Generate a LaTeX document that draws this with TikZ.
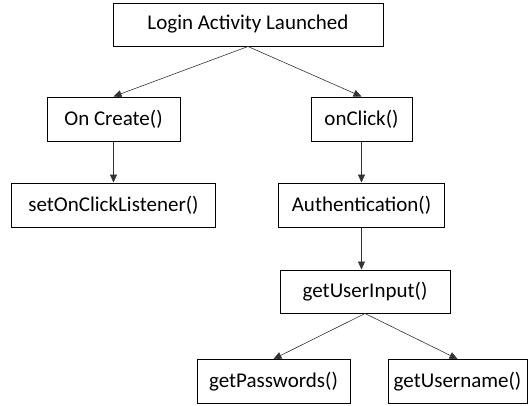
\documentclass[tikz,border=0pt]{standalone}
\usepackage{fontspec}
\setmainfont{Carlito}
\usepackage{tikz}
\usetikzlibrary{arrows.meta,positioning,calc}

\begin{document}
\begin{tikzpicture}[
    x=1pt, y=-1pt,
    node distance=41pt,
    step box/.style={rectangle, draw=black, line width=1pt, fill=white, minimum height=44pt, inner sep=0pt, font=\fontsize{21}{25}\selectfont},
    arrow/.style={-{Triangle[length=8pt,width=7pt]}, line width=0.6pt, draw=black!80},
]
\useasboundingbox (0,0) rectangle (528,405);

% Activity start
\node[step box, minimum width=270pt, minimum height=43pt] (login) at (248,24.5) {Login Activity Launched};

% Lifecycle callbacks
\node[step box, minimum width=133pt] (create) at (113.5,119) {On Create()};
\node[step box, minimum width=101pt] (click) at (361.5,119) {onClick()};
\node[step box, minimum width=204pt, below=of create] (listener) {setOnClickListener()};
\node[step box, minimum width=166pt, below=of click] (auth) {Authentication()};

% Input handling
\node[step box, minimum width=170pt, minimum height=43pt] (input) at (365,291.5) {getUserInput()};
\node[step box, minimum width=153pt] (pass) at (273.5,381.5) {getPasswords()};
\node[step box, minimum width=139pt] (user) at (457.5,381.5) {getUsername()};

% Arrows
\draw[arrow] (login.south) -- (create.north);
\draw[arrow] (login.south) -- (click.north);
\draw[arrow] (create) -- (listener);
\draw[arrow] (click) -- (auth);
\draw[arrow] (auth.south) -- (auth.south |- input.north);
\draw[arrow] (input.south) -- (pass.north);
\draw[arrow] (input.south) -- (user.north);

\end{tikzpicture}
\end{document}
